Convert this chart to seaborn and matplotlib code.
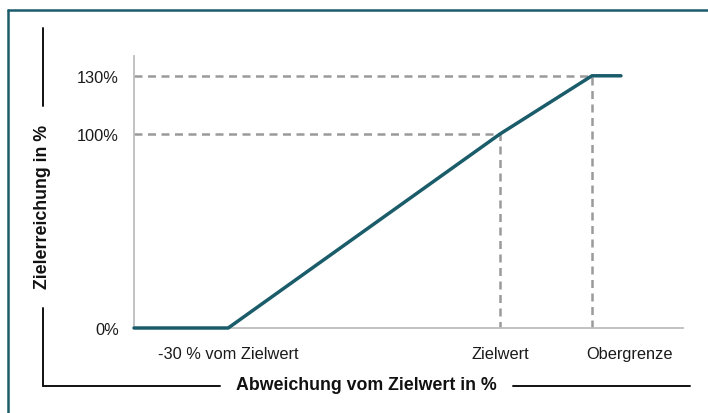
import matplotlib
matplotlib.use("Agg")
import matplotlib.pyplot as plt
import matplotlib.transforms as mtransforms
from matplotlib.lines import Line2D
import seaborn as sns
import pandas as pd

# ---- data ----
x_abw = [-40.4, -30, 0, 10.15, 13.35]          # Abweichung vom Zielwert (%)
y_ziel = [0, 0, 100, 130, 130]                 # Zielerreichung (%)
y_ticks = [0, 100, 130]
y_ticklabels = ["0%", "100%", "130%"]
x_ticks = [-30, 0, 10.15]
x_ticklabels = ["-30 % vom Zielwert", "Zielwert", "Obergrenze"]
x_label = "Abweichung vom Zielwert in %"
y_label = "Zielerreichung in %"

sns.set_theme(style="white")
plt.rcParams["font.family"] = ["Liberation Sans", "DejaVu Sans"]

W, H = 708, 414
fig = plt.figure(figsize=(W / 100, H / 100), dpi=100)
fig.patch.set_facecolor("white")

def fx(px):
    return px / W

def fy(py):
    return 1 - py / H

ax = fig.add_axes([fx(134), fy(329), fx(683) - fx(134), (329 - 57) / H])
ax.set_xlim(-40.4, 20.2)
ax.set_ylim(0, 140.2)

teal = "#1b5c6b"
grey_dash = "#9a9a9a"

# dashed guide lines
ax.plot([x_abw[0], x_abw[2], x_abw[2]], [100, 100, 0], ls=(0, (3.2, 2.2)),
        color=grey_dash, lw=1.8, zorder=2)
ax.plot([x_abw[0], x_abw[3], x_abw[3]], [130, 130, 0], ls=(0, (3.2, 2.2)),
        color=grey_dash, lw=1.8, zorder=2)

df = pd.DataFrame({"x": x_abw, "y": y_ziel})
sns.lineplot(data=df, x="x", y="y", ax=ax, color=teal, lw=2.5, sort=False,
             zorder=4, estimator=None)
for l in ax.lines[-1:]:
    l.set_clip_on(False)

ax.set_xlabel("")
ax.set_ylabel("")
for s in ["top", "right"]:
    ax.spines[s].set_visible(False)
for s in ["left", "bottom"]:
    ax.spines[s].set_color("#bdbdbd")
    ax.spines[s].set_linewidth(1.3)

ax.set_yticks(y_ticks)
ax.set_yticklabels(y_ticklabels)
ax.set_xticks(x_ticks)
ax.set_xticklabels(x_ticklabels)
ax.tick_params(axis="y", length=0, pad=11, labelsize=11.8, labelcolor="#1a1a1a")
ax.tick_params(axis="x", length=0, pad=13, labelsize=11.8, labelcolor="#1a1a1a")
lbls = ax.get_xticklabels()
off = mtransforms.ScaledTranslation(38 / 100, 0, fig.dpi_scale_trans)
lbls[2].set_transform(lbls[2].get_transform() + off)

# outer frame (top and left, teal)
fig.add_artist(Line2D([fx(8), 1.0], [fy(10.5), fy(10.5)], color=teal, lw=1.8))
fig.add_artist(Line2D([fx(8), fx(8)], [fy(10.5), 0], color=teal, lw=1.8))

# axis title brackets
k = "#111111"
fig.add_artist(Line2D([fx(43), fx(43)], [fy(29), fy(107)], color=k, lw=1.4))
fig.add_artist(Line2D([fx(43), fx(43)], [fy(309), fy(387)], color=k, lw=1.4))
fig.add_artist(Line2D([fx(43), fx(220)], [fy(387), fy(387)], color=k, lw=1.4))
fig.add_artist(Line2D([fx(513), fx(690)], [fy(387), fy(387)], color=k, lw=1.4))

fig.text(fx(366), fy(386), x_label, ha="center", va="center",
         fontsize=12.8, fontweight="bold", color=k)
fig.text(fx(43), fy(207), y_label, ha="center", va="center", rotation=90,
         fontsize=12.8, fontweight="bold", color=k)

fig.savefig("out.png", dpi=100, facecolor="white")
